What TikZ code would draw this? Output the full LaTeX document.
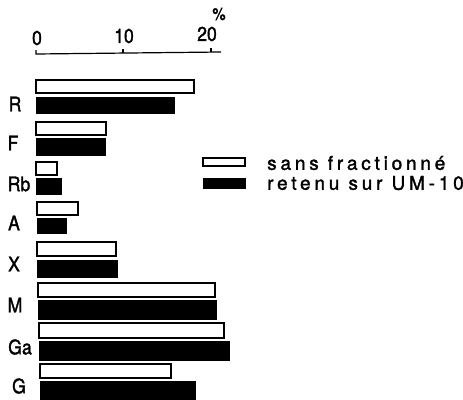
\documentclass[tikz,border=0pt]{standalone}
\usepackage{fontspec}
\setmainfont{TeX Gyre Heros}[FakeStretch=0.88,FakeBold=1.6]
\newfontfamily\legfont{TeX Gyre Heros}[LetterSpace=20,FakeBold=1.6]
\begin{document}
\begin{tikzpicture}[x=1pt,y=-1pt,
  wbar/.style={draw=black,line width=1.6pt,fill=white},
  bbar/.style={draw=black,line width=0.8pt,fill=black},
  lab/.style={font=\fontsize{20}{20}\selectfont,inner sep=0pt},
  leg/.style={font=\fontsize{19}{19}\legfont,inner sep=0pt,anchor=west},
  axis/.style={line width=1.2pt}]
\useasboundingbox (0,0) rectangle (463,399);
% axis
\coordinate (a0) at (36,54);
\coordinate (a20) at (221,52);
\draw[axis] (36,50) -- (a0) -- (a20);
\draw[axis] (123,53) -- (123,49);
\draw[axis] (211,52) -- (211,48);
\node[lab] (t0) at (37,38) {0};
\node[lab] (t10) at (124,36) {10};
\node[lab] (t20) at (207,34) {20};
\node[font=\fontsize{17}{17}\selectfont,inner sep=0pt] (pct) at (219,14) {\%};
% bars
\draw[wbar] (36,80) rectangle (194,93);
\draw[bbar] (36,97) rectangle (174,113);
\draw[wbar] (36,122) rectangle (106,135);
\draw[bbar] (36,138) rectangle (105,155);
\draw[wbar] (36,162) rectangle (57,175);
\draw[bbar] (36,178) rectangle (61,194);
\draw[wbar] (37,202) rectangle (78,215);
\draw[bbar] (37,218) rectangle (66,233);
\draw[wbar] (37,242) rectangle (116,256);
\draw[bbar] (37,260) rectangle (117,277);
\draw[wbar] (38,283) rectangle (215,297);
\draw[bbar] (38,300) rectangle (216,319);
\draw[wbar] (39,323) rectangle (224,338);
\draw[bbar] (39,341) rectangle (229,360);
\draw[wbar] (40,364) rectangle (171,378);
\draw[bbar] (40,381) rectangle (195,399);
% labels
\node[lab] (lR) at (15,104) {R};
\node[lab] (lF) at (13,143) {F};
\node[lab] (lRb) at (19,184) {Rb};
\node[lab] (lA) at (14,223) {A};
\node[lab] (lX) at (14,264) {X};
\node[lab] (lM) at (15,305) {M};
\node[lab] (lGa) at (20,347) {Ga};
\node[lab] (lG) at (19,386) {G};
% legend
\draw[wbar] (203,158) rectangle (245,166);
\draw[bbar] (203,178) rectangle (245,188);
\node[leg] (s1) at (267,163) {sans fractionné};
\node[leg] (s2) at (267,183) {retenu sur UM-10};
\end{tikzpicture}
\end{document}
